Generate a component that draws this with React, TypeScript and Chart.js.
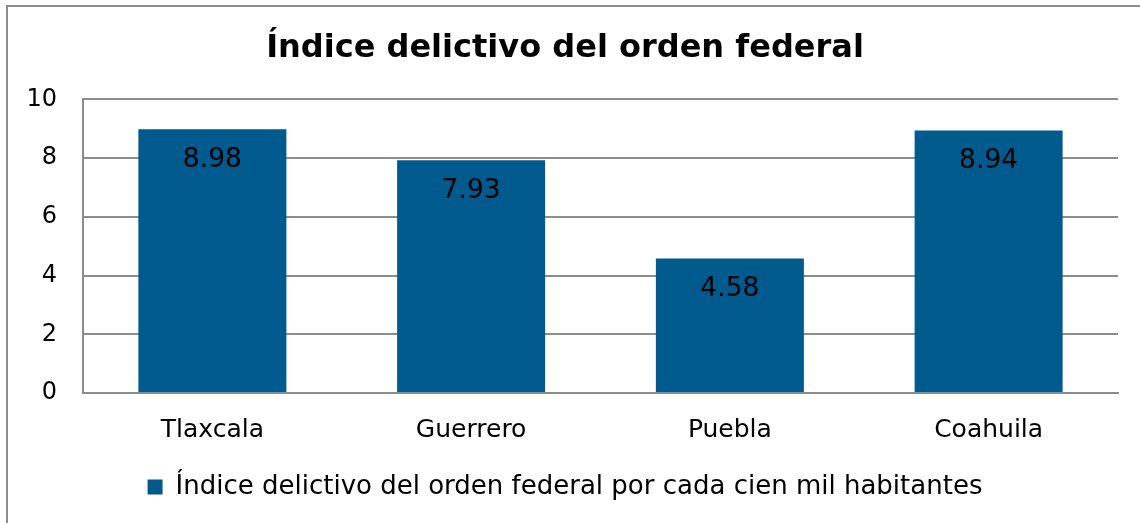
import React, { useEffect, useRef } from "react";
import { Chart, registerables } from "chart.js";

Chart.register(...registerables);

const TITLE = "Índice delictivo del orden federal";
const SERIES_LABEL = "Índice delictivo del orden federal por cada cien mil habitantes";
const categories = ["Tlaxcala", "Guerrero", "Puebla", "Coahuila"];
const values = [8.98, 7.93, 4.58, 8.94];

const FONT = "Verdana, 'DejaVu Sans', sans-serif";
const BAR_COLOR = "#005A8D";
const GRID_COLOR = "#8C8C8C";

const valueLabels = {
  id: "valueLabels",
  afterDatasetsDraw(chart: any) {
    const ctx = chart.ctx;
    const meta = chart.getDatasetMeta(0);
    ctx.save();
    ctx.font = `26.5px ${FONT}`;
    ctx.fillStyle = "#000";
    ctx.textAlign = "center";
    ctx.textBaseline = "middle";
    meta.data.forEach((bar: any, i: number) => {
      ctx.fillText(values[i].toFixed(2), bar.x, bar.y + 31);
    });
    ctx.restore();
  },
};

export default function App() {
  const ref = useRef<HTMLCanvasElement | null>(null);
  useEffect(() => {
    document.body.style.margin = "0";
    const chart = new Chart(ref.current!, {
      type: "bar",
      data: {
        labels: categories,
        datasets: [
          {
            label: SERIES_LABEL,
            data: values,
            backgroundColor: BAR_COLOR,
            categoryPercentage: 0.572,
            barPercentage: 1,
          },
        ],
      },
      options: {
        responsive: false,
        animation: false,
        layout: { padding: { left: 12, right: 22, top: 12, bottom: 13 } },
        plugins: {
          title: {
            display: true,
            text: TITLE,
            color: "#000",
            font: { family: FONT, size: 32, weight: "bold" },
            padding: { top: 17, bottom: 32 },
          },
          legend: {
            position: "bottom",
            labels: {
              color: "#000",
              font: { family: FONT, size: 26 },
              boxWidth: 15,
              boxHeight: 15,
              padding: 7,
            },
          },
          tooltip: { enabled: false },
        },
        scales: {
          x: {
            grid: { display: false, drawTicks: false },
            border: { display: true, color: GRID_COLOR, width: 2 },
            ticks: { color: "#000", font: { family: FONT, size: 25 }, padding: 22 },
          },
          y: {
            min: 0,
            max: 10,
            ticks: { stepSize: 2, color: "#000", font: { family: FONT, size: 24 }, padding: 26 },
            grid: { color: GRID_COLOR, lineWidth: 2, drawTicks: false },
            border: { display: true, color: GRID_COLOR, width: 2 },
            afterFit(scale: any) {
              scale.width = 71;
            },
          },
        },
      },
      plugins: [valueLabels],
    });
    return () => chart.destroy();
  }, []);
  return (
    <div style={{ position: "relative", width: 1140, height: 523, overflow: "hidden", background: "#fff" }}>
      <div
        style={{
          position: "absolute",
          left: 6,
          top: 5,
          width: 1160,
          height: 560,
          border: "2px solid #8C8C8C",
          boxSizing: "border-box",
        }}
      />
      <canvas ref={ref} width={1140} height={523} style={{ position: "absolute", left: 0, top: 0, display: "block" }} />
    </div>
  );
}
